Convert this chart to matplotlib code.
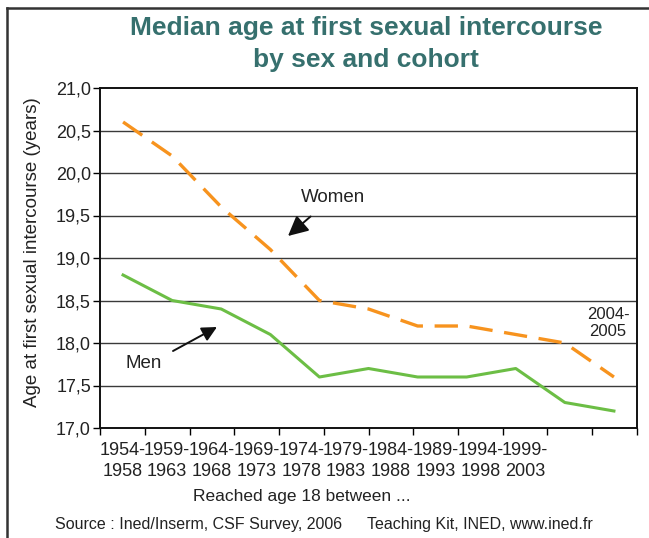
import numpy as np
import matplotlib.pyplot as plt
from matplotlib.lines import Line2D

plt.rcParams['font.family'] = ['Liberation Sans', 'DejaVu Sans']

# DATA
cohorts = ["1954-\n1958", "1959-\n1963", "1964-\n1968", "1969-\n1973", "1974-\n1978",
           "1979-\n1983", "1984-\n1988", "1989-\n1993", "1994-\n1998", "1999-\n2003"]
women = [20.6, 20.2, 19.6, 19.1, 18.5, 18.4, 18.2, 18.2, 18.1, 18.0, 17.6]
men = [18.8, 18.5, 18.4, 18.1, 17.6, 17.7, 17.6, 17.6, 17.7, 17.3, 17.2]
yticks = [17.0, 17.5, 18.0, 18.5, 19.0, 19.5, 20.0, 20.5, 21.0]

W, H = 649, 538
fig = plt.figure(figsize=(W / 100, H / 100), dpi=100)
ax = fig.add_axes([100 / W, 1 - 428 / H, 537 / W, 340 / H])

x = np.arange(len(women))
pad = 0.47
ax.set_xlim(-pad, len(women) - 1 + pad)
ax.set_ylim(17.0, 21.0)

# gridlines
for v in yticks[1:-1]:
    ax.axhline(v, color='#3a3a3a', lw=1.0, zorder=1)

ax.plot(x, women, color='#F7931E', lw=2.4, dashes=(7, 3.5), zorder=3)
ax.plot(x, men, color='#6CBE45', lw=2.2, zorder=3)

# category ticks: 12 bins across the axis
edges = np.linspace(-pad, len(women) - 1 + pad, 13)
ax.set_xticks(edges)
ax.set_xticklabels([])
ax.set_xticks((edges[:-1] + edges[1:])[:len(cohorts)] / 2, minor=True)
ax.set_xticklabels(cohorts, minor=True, fontsize=13, color='#222222', linespacing=1.3)
ax.tick_params(axis='x', which='minor', length=0, pad=10)
ax.tick_params(axis='x', which='major', length=5, width=1, direction='out')

ax.set_yticks(yticks)
ax.set_yticklabels([f"{v:.1f}".replace('.', ',') for v in yticks], fontsize=13, color='#222222')
ax.tick_params(axis='y', length=5, width=1, direction='out', pad=1.5)

for s in ax.spines.values():
    s.set_linewidth(1.4)
    s.set_color('#111111')

# annotations
ax.annotate("Women", xy=(288 / W, 1 - 236 / H), xycoords='figure fraction',
            xytext=(333 / W, 1 - 197 / H), textcoords='figure fraction',
            ha='center', va='center', fontsize=13.5, color='#222222',
            arrowprops=dict(arrowstyle='-|>,head_length=0.9,head_width=0.45', color='#111111',
                            lw=1.4, shrinkA=9, shrinkB=0))
ax.annotate("", xy=(217 / W, 1 - 327 / H), xycoords='figure fraction',
            xytext=(173 / W, 1 - 351 / H), textcoords='figure fraction',
            arrowprops=dict(arrowstyle='-|>,head_length=0.9,head_width=0.45', color='#111111',
                            lw=1.4, shrinkA=0, shrinkB=0))
fig.text(144 / W, 1 - 363 / H, "Men", ha='center', va='center', fontsize=13.5, color='#222222')
fig.text(608 / W, 1 - 323 / H, "2004-\n2005", ha='center', va='center', fontsize=12,
         color='#222222', linespacing=1.2)

# titles and labels
fig.text(366 / W, 1 - 28 / H, "Median age at first sexual intercourse", ha='center', va='center',
         fontsize=19, fontweight='bold', color='#36706E')
fig.text(366 / W, 1 - 60 / H, "by sex and cohort", ha='center', va='center',
         fontsize=19, fontweight='bold', color='#36706E')
fig.text(33 / W, 1 - 252 / H, "Age at first sexual intercourse (years)", rotation=90,
         ha='center', va='center', fontsize=13.5, color='#222222')
fig.text(302 / W, 1 - 497 / H, "Reached age 18 between ...", ha='center', va='center',
         fontsize=12.5, color='#222222')
fig.text(55 / W, 1 - 525 / H, "Source : Ined/Inserm, CSF Survey, 2006", ha='left', va='center',
         fontsize=11.5, color='#222222')
fig.text(367 / W, 1 - 525 / H, "Teaching Kit, INED, www.ined.fr", ha='left', va='center',
         fontsize=11.5, color='#222222')

# outer frame
fig.add_artist(Line2D([7 / W, 7 / W], [0, 1 - 8 / H], transform=fig.transFigure,
                      color='#333333', lw=1.8))
fig.add_artist(Line2D([7 / W, 1], [1 - 8 / H, 1 - 8 / H], transform=fig.transFigure,
                      color='#333333', lw=1.8))

fig.savefig("out.png", dpi=100)
